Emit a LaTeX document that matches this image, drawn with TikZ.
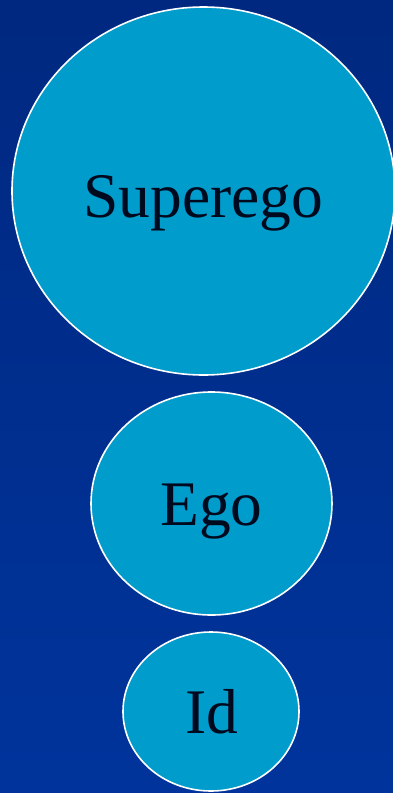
\documentclass[tikz,border=0pt]{standalone}
\usepackage{fontspec}
\setmainfont{Liberation Serif}
\definecolor{bgtop}{RGB}{0,40,128}
\definecolor{bgbot}{RGB}{0,52,156}
\definecolor{blobfill}{RGB}{0,156,203}
\definecolor{inktext}{RGB}{0,10,31}
\tikzset{
  psyche/.style={draw=white, line width=1.6pt, fill=blobfill},
  psychelabel/.style={text=inktext, font=\fontsize{63.5}{63.5}\selectfont, inner sep=0pt, anchor=base}
}
\begin{document}
\begin{tikzpicture}[x=1pt,y=-1pt]
  \useasboundingbox (0,0) rectangle (393,793);
  \shade[top color=bgtop, bottom color=bgbot] (0,0) rectangle (393,793);
  \begin{scope}
    \clip (0,0) rectangle (393,793);
    \draw[psyche] (203.5,191) ellipse [x radius=191.5, y radius=184];
    \draw[psyche] (211.5,503.5) ellipse [x radius=120.5, y radius=111.5];
    \draw[psyche] (211,711.5) ellipse [x radius=88, y radius=79.5];
  \end{scope}
  \node[psychelabel] (superego) at (203.5,217) {Superego};
  \node[psychelabel] (ego) at (211.5,525) {Ego};
  \node[psychelabel] (id) at (211.5,733) {Id};
\end{tikzpicture}
\end{document}
